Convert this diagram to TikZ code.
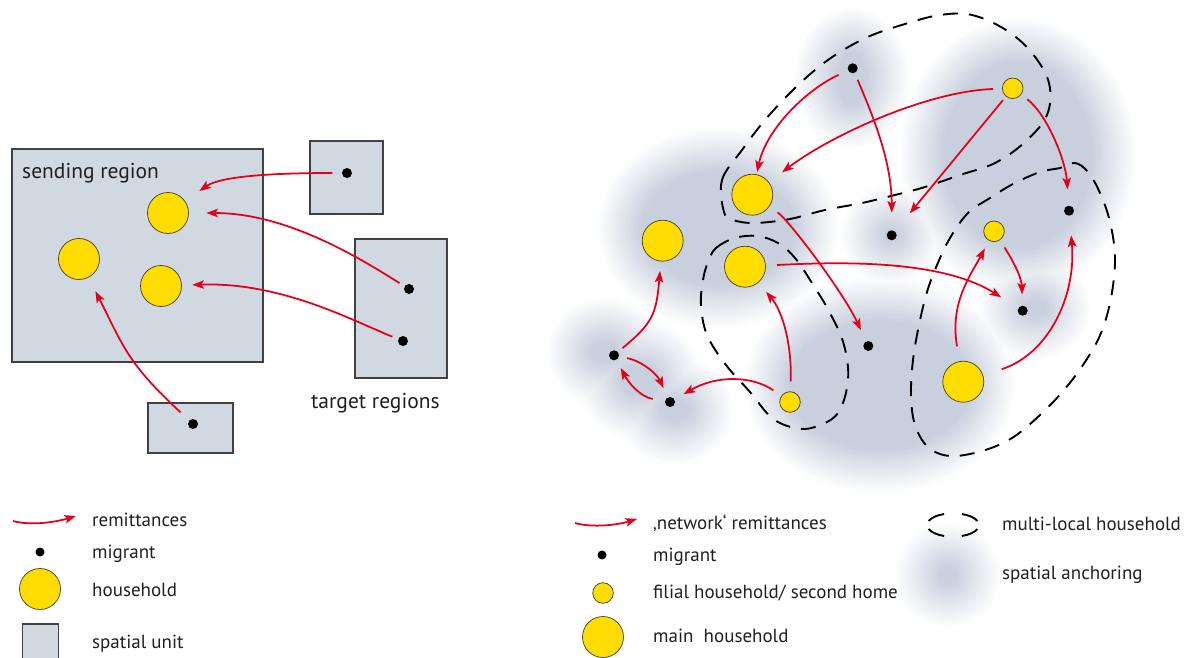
\documentclass[tikz,border=0pt]{standalone}
\usepackage{fontspec}
\setmainfont{PT Sans}
\usetikzlibrary{arrows.meta}
\definecolor{remred}{RGB}{226,0,26}
\definecolor{hhyellow}{RGB}{255,221,0}
\definecolor{hhborder}{RGB}{70,60,40}
\definecolor{unitgray}{RGB}{208,216,226}
\definecolor{unitborder}{RGB}{65,65,65}
\definecolor{anchorgray}{RGB}{200,208,221}
\definecolor{txtcol}{RGB}{35,31,32}
\begin{document}
\begin{tikzpicture}[x=1pt,y=-1pt,
  rem/.style={draw=remred, line width=1.75pt, -{Stealth[length=11.5pt,width=8.5pt,inset=2.5pt]}},
  dot/.style={circle, fill=black, inner sep=0pt, minimum size=10pt},
  hh/.style={circle, draw=hhborder, line width=0.7pt, fill=hhyellow, inner sep=0pt, minimum size=41pt},
  fh/.style={hh, minimum size=20.6pt},
  unit/.style={draw=unitborder, line width=1.1pt, fill=unitgray},
  mlh/.style={draw=black, line width=1.9pt, dash pattern=on 15pt off 11pt},
  lab/.style={anchor=mid west, text=txtcol, inner sep=0pt, font=\fontsize{19}{22}\selectfont},
  head/.style={lab, font=\fontsize{21.5}{25}\selectfont}]
\useasboundingbox (0,0) rectangle (1187,658);
\fill[white] (0,0) rectangle (1187,658);

% ---------- left: spatial units ----------
\draw[unit] (12,149) rectangle (263,362);
\draw[unit] (310,141) rectangle (383,214);
\draw[unit] (355,239) rectangle (447,378);
\draw[unit] (148,403) rectangle (233,453);
\node[head] (sendlab) at (22,176) {sending region};
\node[head] (targlab) at (311,405.5) {target regions};

\node[hh] (s1) at (168,213) {};
\node[hh] (s2) at (79,259) {};
\node[hh] (s3) at (161,286) {};
\node[dot] (t1) at (347,173) {};
\node[dot] (t2) at (409,289) {};
\node[dot] (t3) at (403,341) {};
\node[dot] (t4) at (193,424) {};

\draw[rem, shorten <=9.5pt, shorten >=17.5pt] (t1) .. controls +(180:70) and +(-35:65) .. (s1);
\draw[rem, shorten <=6pt, shorten >=17.5pt] (t2) .. controls +(212:55) and +(0:120) .. (s1);
\draw[rem, shorten <=6.3pt, shorten >=10.5pt] (t3) .. controls +(202:55) and +(-2:120) .. (s3);
\draw[rem, shorten <=11.8pt, shorten >=15.3pt] (t4) .. controls +(223:90) and +(63:100) .. (s2);

% ---------- right: spatial anchoring (soft blobs, light rings first) ----------
\foreach \k in {1,...,22}{
  \pgfmathsetmacro\fr{100*\k/22}
  \pgfmathsetmacro\dd{22-44*(\k-1)/21}
  \foreach \bx/\by/\rx/\ry in {852/78/36/48, 1018/155/96/115, 718/228/98/78, 891/235/28/28, 605/352/36/32, 640/380/40/38, 675/410/36/32, 880/385/113/86, 1035/308/33/30, 948/575/30/30}{
    \fill[anchorgray!\fr!white] (\bx,\by) ellipse [x radius={\rx+\dd}, y radius={\ry+\dd}];
  }
}

% ---------- multi-local households ----------
\draw[mlh] plot[smooth cycle, tension=0.6] coordinates {(724,212) (722,180) (742,150) (765,120) (790,93) (815,70) (840,52) (870,36) (905,24) (940,15) (972,15) (1006,30) (1032,53) (1049,83) (1047,115) (1025,142) (995,163) (960,175) (925,187) (895,195) (862,203) (825,210) (790,219) (755,223) (733,220)};
\draw[mlh] plot[smooth cycle, tension=0.6] coordinates {(708,262) (716,248) (735,238) (757,236) (778,243) (795,258) (812,283) (830,313) (844,345) (848,380) (838,413) (815,427) (795,428) (772,418) (750,392) (726,365) (707,335) (701,305) (703,280)};
\draw[mlh] plot[smooth cycle, tension=0.6] coordinates {(1060,168) (1075,163) (1088,172) (1100,193) (1110,222) (1115,258) (1111,298) (1101,333) (1085,362) (1064,390) (1040,415) (1012,438) (982,451) (950,456) (928,447) (915,425) (911,395) (913,360) (919,325) (927,292) (937,265) (950,238) (968,213) (990,198) (1013,184) (1040,172)};

% ---------- right: households and migrants ----------
\node[hh] (H1) at (752.3,194.7) {};
\node[hh] (Hl) at (662.7,240.7) {};
\node[hh] (H2) at (745,266.7) {};
\node[hh] (H3) at (963.3,381.7) {};
\node[fh] (f1) at (790,402) {};
\node[fh] (f2) at (1012.7,88.3) {};
\node[fh] (f3) at (994,231.3) {};
\node[dot] (m1) at (852.7,68.3) {};
\node[dot] (ma) at (614,355.3) {};
\node[dot] (mb) at (670,402) {};
\node[dot] (mc) at (868.3,346) {};
\node[dot] (md) at (891.7,235.3) {};
\node[dot] (me) at (1069,210.7) {};
\node[dot] (mf) at (1022.7,310.7) {};

% ---------- network remittances ----------
\draw[rem, shorten <=10.3pt, shorten >=2.4pt] (m1) .. controls +(155:53) and +(-78:66) .. (H1);
\draw[rem, shorten <=7.3pt, shorten >=17.5pt] (m1) .. controls +(67:50) and +(-90:75) .. (md);
\draw[rem, shorten <=9pt, shorten >=16.4pt] (f2) .. controls +(178:85) and +(-37:100) .. (H1);
\draw[rem, shorten <=4.7pt, shorten >=23.2pt] (f2) -- (md);
\draw[rem, shorten <=7.6pt, shorten >=16.2pt] (f2) .. controls +(37:42) and +(-94:52) .. (me);
\draw[rem, shorten <=10pt, shorten >=12.3pt] (H1) .. controls +(35:45) and +(-115:60) .. (mc);
\draw[rem, shorten <=11.2pt, shorten >=20.2pt] (H2) .. controls +(-3:100) and +(212:95) .. (mf);
\draw[rem, shorten <=10pt, shorten >=12pt] (f1) .. controls +(-88:55) and +(50:60) .. (H2);
\draw[rem, shorten <=9.7pt, shorten >=10.5pt] (f1) .. controls +(215:45) and +(-30:55) .. (mb);
\draw[rem, shorten <=6pt, shorten >=9.5pt] (ma) .. controls +(-40:50) and +(95:75) .. (Hl);
\draw[rem, shorten <=8.2pt, shorten >=10pt] (ma) .. controls +(12:30) and +(245:30) .. (mb);
\draw[rem, shorten <=12.3pt, shorten >=9.3pt] (mb) .. controls +(190:30) and +(62:32) .. (ma);
\draw[rem, shorten <=8.6pt, shorten >=11pt] (f3) .. controls +(57:30) and +(-92:35) .. (mf);
\draw[rem, shorten <=15pt, shorten >=8.8pt] (H3) .. controls +(-100:80) and +(118:50) .. (f3);
\draw[rem, shorten <=19.5pt, shorten >=19.5pt] (H3) .. controls +(-18:90) and +(85:85) .. (me);

% ---------- legend left ----------
\coordinate (la1) at (13,521);
\coordinate (la2) at (76,516);
\draw[rem] (la1) .. controls +(18,5) and +(-20,6) .. (la2);
\node[lab] (lt1) at (92,523.5) {remittances};
\node[dot, minimum size=9pt] (ld1) at (40,552) {};
\node[lab] (lt2) at (92,555.5) {migrant};
\node[hh] (lh1) at (40,589) {};
\node[lab] (lt3) at (92,594) {household};
\draw[unit] (22.5,624) rectangle (58.5,668);
\node[lab] (lt4) at (92,645.5) {spatial unit};

% ---------- legend right ----------
\coordinate (lb1) at (575,523);
\coordinate (lb2) at (637,519);
\draw[rem] (lb1) .. controls +(18,5) and +(-20,6) .. (lb2);
\node[lab] (rt1) at (653,527) {‚network‘ remittances};
\node[dot, minimum size=9pt] (rd1) at (602,555) {};
\node[lab] (rt2) at (653,558.5) {migrant};
\node[fh] (rf1) at (603,593) {};
\node[lab] (rt3) at (653,596) {filial household/ second home};
\node[hh] (rh1) at (603,637) {};
\node[lab] (rt4) at (653,640) {main~~household};
\coordinate (le) at (953,525);
\foreach \a/\b in {20/70,110/160,200/250,290/340}
  \draw[draw=black, line width=1.9pt] ([shift={(\a:26 and 11.7)}]le) arc[start angle=\a, end angle=\b, x radius=26, y radius=11.7];
\node[lab] (rt5) at (1002,528) {multi-local household};
\node[lab] (rt6) at (1002,576.5) {spatial anchoring};
\end{tikzpicture}
\end{document}
